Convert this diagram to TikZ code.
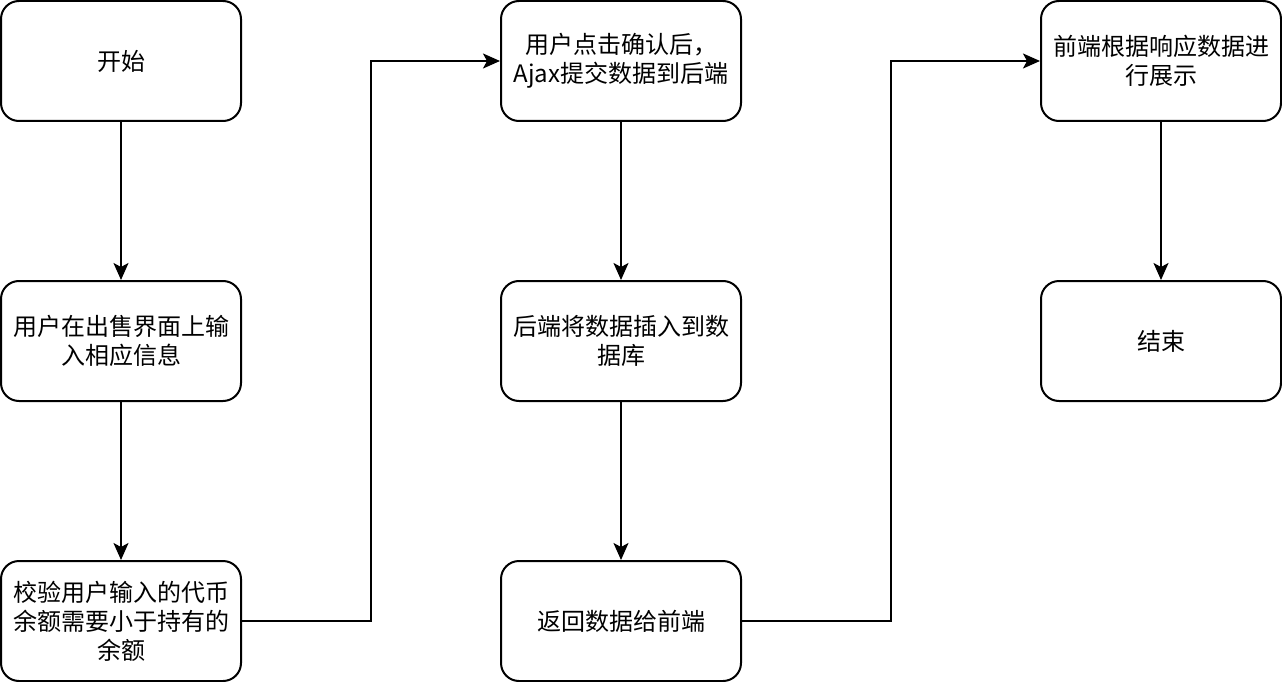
\documentclass[tikz,border=0pt]{standalone}
\usepackage{fontspec}
\setmainfont{Noto Sans CJK SC}
\usetikzlibrary{arrows.meta}
\begin{document}
\begin{tikzpicture}[x=1pt,y=-1pt,
  box/.style={draw,line width=2pt,rounded corners=18pt,minimum width=240pt,minimum height=120pt,
    align=center,font=\fontsize{24}{29}\selectfont,inner sep=0pt},
  conn/.style={line width=2pt,-{Stealth[length=17pt,width=15pt,inset=4pt]}}]
\useasboundingbox (0,0) rectangle (1282,682);
\node[box] (b1) at (121,61) {开始};
\node[box] (b2) at (121,341) {用户在出售界面上输\\入相应信息};
\node[box] (b3) at (121,621) {校验用户输入的代币\\余额需要小于持有的\\余额};
\node[box] (b4) at (621,61) {用户点击确认后，\\Ajax提交数据到后端};
\node[box] (b5) at (621,341) {后端将数据插入到数\\据库};
\node[box] (b6) at (621,621) {返回数据给前端};
\node[box] (b7) at (1161,61) {前端根据响应数据进\\行展示};
\node[box] (b8) at (1161,341) {结束};
\coordinate (c1) at (371,621);
\coordinate (c2) at (371,61);
\coordinate (c3) at (891,621);
\coordinate (c4) at (891,61);
\draw[conn] (b1) -- (b2);
\draw[conn] (b2) -- (b3);
\draw[conn] (b3.east) -- (c1) -- (c2) -- (b4.west);
\draw[conn] (b4) -- (b5);
\draw[conn] (b5) -- (b6);
\draw[conn] (b6.east) -- (c3) -- (c4) -- (b7.west);
\draw[conn] (b7) -- (b8);
\end{tikzpicture}
\end{document}
